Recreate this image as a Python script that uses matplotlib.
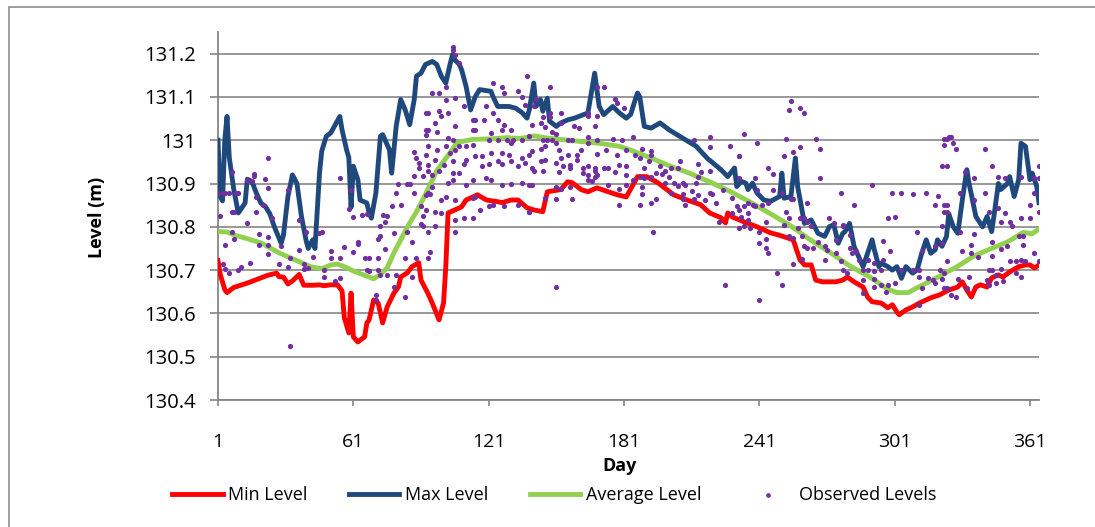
import matplotlib
matplotlib.use("Agg")
import matplotlib.pyplot as plt
from matplotlib.patches import Rectangle

plt.rcParams['font.family'] = ['Open Sans', 'DejaVu Sans']

# ---------------- data ----------------
max_days = [1, 2, 3, 4, 5, 6, 8, 10, 13, 14, 16, 18, 20, 22, 24, 26, 29, 30, 32, 34,
            36, 38, 40, 41, 43, 44, 46, 47, 49, 51, 53, 55, 56, 58, 59, 60, 61, 63, 64, 67,
            68, 69, 71, 73, 74, 77, 78, 80, 82, 84, 86, 88, 89, 91, 93, 96, 98, 100, 102, 104,
            105, 106, 108, 109, 111, 113, 115, 117, 122, 123, 125, 130, 133, 136, 138, 139, 141, 142, 144, 145,
            147, 148, 151, 153, 156, 159, 163, 165, 167, 168, 170, 172, 176, 179, 182, 184, 186, 187, 188, 190,
            193, 197, 201, 207, 213, 218, 224, 227, 230, 231, 233, 235, 236, 238, 240, 243, 246, 250, 251, 252,
            255, 257, 258, 261, 264, 267, 270, 272, 274, 276, 278, 279, 281, 283, 286, 287, 289, 291, 292, 294,
            295, 298, 300, 302, 304, 306, 309, 311, 313, 315, 317, 319, 320, 322, 324, 325, 327, 329, 331, 333,
            334, 337, 340, 342, 344, 345, 347, 348, 351, 352, 354, 356, 357, 359, 361, 362, 364, 365]
max_level = [131.00, 130.87, 130.86, 131.00, 131.055, 130.96, 130.886, 130.832, 130.855, 130.91,
             130.905, 130.878, 130.855, 130.847, 130.83, 130.80, 130.762, 130.78, 130.87, 130.92,
             130.90, 130.824, 130.77, 130.75, 130.77, 130.75, 130.924, 130.975, 131.009, 131.017,
             131.036, 131.055, 131.024, 130.978, 130.96, 130.845, 130.94, 130.909, 130.862, 130.855,
             130.832, 130.82, 130.878, 131.009, 131.013, 130.978, 130.924, 131.032, 131.094, 131.07,
             131.036, 131.094, 131.148, 131.155, 131.175, 131.182, 131.175, 131.148, 131.132, 131.178,
             131.198, 131.186, 131.175, 131.163, 131.124, 131.07, 131.10, 131.117, 131.113, 131.10,
             131.078, 131.078, 131.074, 131.063, 131.051, 131.07, 131.132, 131.078, 131.094, 131.067,
             131.097, 131.044, 131.032, 131.04, 131.047, 131.051, 131.059, 131.063, 131.124, 131.155,
             131.078, 131.059, 131.078, 131.063, 131.051, 131.06, 131.094, 131.109, 131.10, 131.032,
             131.028, 131.04, 131.024, 131.005, 130.986, 130.958, 130.932, 130.916, 130.936, 130.893,
             130.905, 130.901, 130.886, 130.901, 130.878, 130.862, 130.859, 130.87, 130.924, 130.866,
             130.87, 130.959, 130.893, 130.808, 130.816, 130.785, 130.778, 130.80, 130.805, 130.762,
             130.785, 130.789, 130.808, 130.755, 130.72, 130.708, 130.739, 130.77, 130.747, 130.708,
             130.716, 130.708, 130.70, 130.708, 130.681, 130.708, 130.693, 130.701, 130.739, 130.77,
             130.739, 130.747, 130.77, 130.755, 130.778, 130.83, 130.80, 130.785, 130.862, 130.932,
             130.90, 130.824, 130.80, 130.824, 130.789, 130.824, 130.90, 130.886, 130.90, 130.916,
             130.87, 130.909, 130.993, 130.986, 130.909, 130.924, 130.893, 130.856]

min_days = [1, 2, 4, 5, 8, 14, 20, 23, 27, 28, 30, 32, 34, 37, 39, 43, 46, 48, 51, 54,
            56, 57, 59, 60, 61, 63, 66, 67, 68, 70, 72, 74, 76, 79, 81, 82, 85, 87, 90, 91,
            94, 96, 99, 101, 102, 103, 106, 109, 111, 114, 116, 120, 125, 127, 131, 134, 138, 141, 145, 147,
            153, 156, 158, 162, 165, 169, 174, 178, 182, 185, 187, 191, 196, 203, 209, 215, 219, 224, 226, 227,
            229, 234, 240, 246, 249, 252, 256, 259, 261, 264, 266, 269, 275, 278, 280, 283, 287, 289, 291, 295,
            298, 300, 302, 303, 306, 309, 312, 317, 321, 325, 329, 331, 333, 335, 337, 339, 342, 344, 347, 349,
            352, 356, 359, 361, 363, 365]
min_level = [130.722, 130.69, 130.655, 130.648, 130.66, 130.67, 130.682, 130.688, 130.693, 130.685,
             130.684, 130.668, 130.675, 130.69, 130.665, 130.665, 130.666, 130.664, 130.666, 130.666,
             130.652, 130.59, 130.555, 130.647, 130.546, 130.534, 130.546, 130.578, 130.585, 130.631,
             130.624, 130.578, 130.615, 130.647, 130.661, 130.684, 130.694, 130.708, 130.717, 130.677,
             130.647, 130.624, 130.585, 130.624, 130.708, 130.832, 130.839, 130.846, 130.862, 130.869,
             130.874, 130.862, 130.858, 130.856, 130.862, 130.862, 130.844, 130.839, 130.835, 130.881,
             130.886, 130.904, 130.902, 130.886, 130.881, 130.89, 130.881, 130.874, 130.869, 130.897,
             130.916, 130.916, 130.902, 130.874, 130.862, 130.851, 130.832, 130.821, 130.809, 130.832,
             130.823, 130.812, 130.80, 130.786, 130.782, 130.777, 130.77, 130.724, 130.712, 130.712,
             130.677, 130.673, 130.673, 130.677, 130.684, 130.673, 130.661, 130.638, 130.627, 130.624,
             130.613, 130.62, 130.603, 130.597, 130.608, 130.615, 130.624, 130.636, 130.643, 130.654,
             130.661, 130.673, 130.654, 130.638, 130.661, 130.666, 130.661, 130.682, 130.689, 130.684,
             130.696, 130.708, 130.712, 130.712, 130.705, 130.712]

avg_days = [1, 5, 9, 13, 20, 28, 35, 42, 47, 51, 54, 57, 61, 65, 70, 73, 76, 79, 82, 85,
            89, 93, 98, 103, 107, 114, 122, 129, 135, 141, 147, 158, 170, 179, 185, 191, 197, 203, 210, 219,
            228, 237, 246, 255, 263, 272, 281, 290, 298, 302, 307, 312, 321, 329, 336, 343, 351, 358, 362, 365]
avg_level = [130.789, 130.788, 130.78, 130.774, 130.763, 130.74, 130.724, 130.708, 130.703, 130.712,
             130.714, 130.708, 130.698, 130.69, 130.68, 130.69, 130.705, 130.74, 130.77, 130.80,
             130.835, 130.875, 130.93, 130.965, 130.995, 131.002, 131.003, 131.006, 131.004, 131.01,
             131.005, 130.999, 130.993, 130.986, 130.975, 130.963, 130.95, 130.937, 130.924, 130.904,
             130.882, 130.857, 130.83, 130.802, 130.772, 130.742, 130.71, 130.684, 130.656, 130.648,
             130.648, 130.662, 130.686, 130.709, 130.732, 130.748, 130.765, 130.787, 130.784, 130.795]

obs_days = [
    23, 7, 17, 22, 23, 1, 3, 4, 6, 9, 10, 2, 7, 8, 18, 21, 32, 14, 25, 37,
    19, 23, 40, 46, 7, 4, 8, 19, 23, 33, 29, 23, 3, 4, 6, 15, 10, 11, 28, 32,
    37, 39, 39, 41, 43, 33, 16, 14, 18, 17,
    47, 55, 60, 59, 61, 65, 67, 74, 76, 75, 78, 82, 80, 81, 85, 86, 88, 89, 90, 90,
    88, 92, 88, 93, 93, 93, 85, 87, 89, 84, 79, 75, 73, 72, 73, 63, 63, 61, 57, 51,
    51, 55, 66, 68, 72, 67, 68, 72, 73, 76, 80, 79, 71, 71, 48, 48, 53, 55, 87, 84,
    91,
    105, 105, 106, 108, 102, 96, 99, 106, 102, 110, 123, 127, 128, 134, 136, 137, 120, 103, 100, 99,
    94, 97, 106, 114, 115, 119, 123, 125, 128, 131, 127, 114, 115, 94, 93, 98, 103, 105, 108, 111,
    114, 121, 122, 125, 129, 131, 132, 136, 139, 94, 98, 102, 104, 106, 111, 115, 118, 122, 127, 130,
    136, 139, 93, 94, 97, 101, 105, 110, 118, 121, 125, 127, 131, 134, 137, 94, 96, 99, 105, 108,
    105, 96, 103, 111, 114, 120, 122, 127, 131, 136, 139, 94, 95, 100, 102, 106, 114, 115, 117, 121,
    123, 128, 134, 139, 93, 97, 100, 106, 110, 114, 92, 94, 97, 106, 95, 94, 91, 92,
    138, 148, 141, 142, 145, 148, 153, 165, 169, 172, 177, 178, 181, 140, 144, 146, 148, 149, 151, 153,
    159, 161, 165, 168, 169, 145, 147, 149, 151, 156, 158, 165, 169, 176, 180, 185, 140, 144, 146, 152,
    156, 160, 162, 165, 169, 173, 178, 182, 140, 144, 146, 151, 153, 154, 157, 157, 160, 163, 165, 168,
    168, 172, 174, 179, 182, 141, 145, 152, 163, 165, 168, 169, 174, 177, 182, 140, 151, 157, 165, 167,
    182, 185, 139, 146, 151, 158, 153, 179, 179, 151,
    219, 219, 228, 232, 212, 186, 188, 189, 193, 192, 193, 190, 197, 199, 201, 188, 189, 193, 195, 202,
    205, 206, 203, 205, 208, 213, 214, 215, 214, 219, 211, 214, 212, 217, 219, 220, 222, 225, 229, 231,
    188, 193, 195, 189, 207, 207, 199, 208, 202, 207, 223, 229, 194, 226, 190, 198,
    255, 254, 259, 261, 234, 240, 253, 266, 268, 259, 256, 252, 232, 245, 247, 232, 239, 268, 277, 240,
    247, 251, 255, 256, 262, 234, 236, 238, 239, 242, 245, 232, 253, 254, 259, 261, 272, 274, 233, 236,
    234, 237, 244, 252, 258, 262, 264, 232, 241, 241, 244, 244, 245, 254, 256, 260, 261, 267, 270, 271,
    262, 265, 270, 275, 277, 256, 260, 249, 251, 241, 278, 275, 236,
    323, 325, 323, 322, 291, 300, 304, 309, 315, 320, 283, 319, 323, 323, 322, 298, 301, 311, 278, 281,
    284, 282, 296, 299, 296, 313, 319, 322, 281, 285, 289, 292, 295, 304, 309, 312, 312, 316, 321, 323,
    278, 287, 289, 292, 280, 287, 292, 295, 298, 301, 292, 297, 313, 318, 319, 322, 323, 312, 287,
    324, 326, 327, 328, 341, 344, 324, 332, 336, 347, 350, 357, 363, 365, 365, 330, 341, 363, 324, 324,
    336, 343, 347, 350, 357, 361, 361, 365, 330, 336, 344, 348, 352, 353, 356, 358, 331, 335, 335, 338,
    344, 348, 351, 358, 363, 343, 344, 348, 352, 355, 357, 359, 365, 324, 329, 334, 343, 346, 349, 355,
    357, 326, 328, 324, 333, 342, 346]
obs_level = [
    130.959, 130.926, 130.923, 130.911, 130.890, 130.879, 130.879, 130.878, 130.878, 130.879,
    130.879, 130.824, 130.835, 130.835, 130.835, 130.851, 130.884, 130.808, 130.820, 130.816,
    130.783, 130.776, 130.789, 130.785, 130.789, 130.757, 130.772, 130.757, 130.757, 130.728,
    130.755, 130.737, 130.714, 130.702, 130.693, 130.716, 130.701, 130.707, 130.714, 130.707,
    130.747, 130.714, 130.702, 130.704, 130.731, 130.525, 130.905, 130.909, 130.870, 130.918,
    130.787, 130.913, 130.886, 130.841, 130.822, 130.828, 130.830, 130.828, 130.825, 130.812,
    130.849, 130.851, 130.879, 130.899, 130.899, 130.899, 130.879, 130.959, 130.947, 130.936,
    130.918, 130.918, 130.972, 131.064, 131.023, 130.874, 130.787, 130.766, 130.728, 130.728,
    130.785, 130.748, 130.778, 130.771, 130.801, 130.766, 130.761, 130.743, 130.753, 130.745,
    130.728, 130.728, 130.728, 130.728, 130.728, 130.701, 130.697, 130.701, 130.689, 130.689,
    130.689, 130.662, 130.643, 130.631, 130.701, 130.684, 130.676, 130.681, 130.685, 130.639,
    130.807,
    131.215, 131.209, 131.198, 131.178, 131.124, 131.109, 131.109, 131.097, 131.094, 131.078,
    131.132, 131.124, 131.109, 131.113, 131.101, 131.082, 131.078, 131.063, 131.055, 131.067,
    131.063, 131.040, 131.032, 131.047, 131.047, 131.047, 131.064, 131.047, 131.036, 131.024,
    131.024, 131.024, 131.023, 131.024, 131.013, 131.020, 131.005, 131.001, 130.987, 130.987,
    130.990, 131.001, 131.017, 131.001, 131.001, 130.993, 131.001, 131.001, 131.009, 130.986,
    130.978, 130.986, 130.970, 130.978, 130.955, 130.963, 130.963, 130.970, 130.970, 130.966,
    130.959, 130.966, 130.966, 130.943, 130.955, 130.943, 130.951, 130.946, 130.940, 130.946,
    130.951, 130.946, 130.951, 130.940, 130.947, 130.928, 130.920, 130.928, 130.924, 130.924,
    130.909, 130.893, 130.901, 130.897, 130.909, 130.913, 130.909, 130.897, 130.899, 130.901,
    130.897, 130.878, 130.876, 130.862, 130.870, 130.862, 130.866, 130.870, 130.839, 130.847,
    130.851, 130.847, 130.851, 130.835, 130.839, 130.835, 130.832, 130.816, 130.820, 130.820,
    130.801, 130.789, 130.801, 130.789, 130.743, 130.728, 130.847, 130.824,
    131.149, 131.124, 131.078, 131.095, 131.054, 131.063, 131.063, 131.063, 131.124, 131.124,
    131.095, 131.086, 131.074, 131.036, 131.040, 131.030, 131.054, 131.020, 131.015, 131.040,
    131.034, 131.028, 131.057, 131.034, 131.055, 131.001, 131.001, 131.001, 130.993, 131.001,
    131.001, 131.007, 131.001, 131.003, 131.001, 131.007, 130.974, 130.980, 130.986, 130.978,
    130.966, 130.966, 130.978, 130.993, 130.969, 130.978, 130.966, 130.978, 130.936, 130.953,
    130.955, 130.947, 130.959, 130.941, 130.943, 130.936, 130.955, 130.936, 130.940, 130.936,
    130.928, 130.936, 130.936, 130.943, 130.940, 130.928, 130.928, 130.926, 130.924, 130.920,
    130.916, 130.920, 130.897, 130.926, 130.920, 130.897, 130.893, 130.893, 130.909, 130.905,
    130.897, 130.909, 130.835, 130.866, 130.864, 130.864, 130.887, 130.851, 130.887, 130.660,
    131.007, 130.984, 130.987, 130.964, 131.000, 130.966, 130.959, 130.980, 130.974, 130.953,
    130.966, 130.936, 130.940, 130.928, 130.916, 130.916, 130.893, 130.916, 130.924, 130.936,
    130.936, 130.951, 130.901, 130.895, 130.897, 130.901, 130.916, 130.926, 130.946, 130.930,
    130.882, 130.874, 130.864, 130.862, 130.878, 130.876, 130.855, 130.886, 130.866, 130.849,
    130.851, 130.856, 130.864, 130.876, 130.864, 130.901, 130.901, 130.851, 130.878, 130.876,
    130.810, 130.832, 130.789, 130.666, 130.913, 130.923,
    131.090, 131.069, 131.074, 131.063, 131.015, 130.993, 131.003, 131.003, 130.980, 130.984,
    130.972, 130.964, 130.964, 130.936, 130.923, 130.913, 130.913, 130.913, 130.879, 130.886,
    130.884, 130.878, 130.864, 130.864, 130.855, 130.847, 130.855, 130.851, 130.847, 130.851,
    130.856, 130.839, 130.835, 130.820, 130.820, 130.820, 130.820, 130.808, 130.822, 130.816,
    130.801, 130.797, 130.812, 130.805, 130.797, 130.810, 130.801, 130.797, 130.789, 130.762,
    130.771, 130.751, 130.739, 130.778, 130.774, 130.778, 130.755, 130.766, 130.756, 130.747,
    130.751, 130.751, 130.724, 130.739, 130.720, 130.714, 130.725, 130.693, 130.666, 130.631,
    130.805, 130.770, 130.832,
    131.003, 131.007, 130.990, 130.941, 130.897, 130.879, 130.879, 130.876, 130.879, 130.872,
    130.851, 130.851, 130.851, 130.835, 130.801, 130.820, 130.822, 130.789, 130.801, 130.782,
    130.745, 130.739, 130.768, 130.745, 130.724, 130.745, 130.755, 130.762, 130.751, 130.724,
    130.724, 130.716, 130.701, 130.701, 130.701, 130.701, 130.684, 130.681, 130.701, 130.693,
    130.701, 130.701, 130.701, 130.697, 130.693, 130.677, 130.679, 130.666, 130.666, 130.671,
    130.661, 130.650, 130.658, 130.677, 130.671, 130.679, 130.658, 130.620, 130.647,
    131.003, 131.007, 130.993, 130.980, 130.980, 130.941, 130.940, 130.926, 130.913, 130.916,
    130.913, 130.916, 130.913, 130.913, 130.941, 130.879, 130.879, 130.879, 130.851, 130.835,
    130.862, 130.835, 130.843, 130.832, 130.820, 130.851, 130.820, 130.835, 130.787, 130.784,
    130.764, 130.812, 130.812, 130.802, 130.779, 130.758, 130.745, 130.758, 130.739, 130.731,
    130.733, 130.748, 130.756, 130.779, 130.739, 130.701, 130.701, 130.702, 130.720, 130.722,
    130.724, 130.722, 130.720, 130.720, 130.679, 130.684, 130.666, 130.670, 130.676, 130.693,
    130.684, 130.643, 130.639, 130.658, 130.658, 130.677, 130.689]

x_ticks = [1, 61, 121, 181, 241, 301, 361]
y_ticks = [130.4, 130.5, 130.6, 130.7, 130.8, 130.9, 131.0, 131.1, 131.2]
y_tick_labels = ['130.4', '130.5', '130.6', '130.7', '130.8', '130.9', '131', '131.1', '131.2']

# ---------------- plot ----------------
W, H = 1095, 527
fig = plt.figure(figsize=(W / 100, H / 100), dpi=100)
ax = fig.add_axes([218 / W, 1 - 400 / H, (1039 - 218) / W, (400 - 32) / H])

grey = '#868686'
ax.plot(min_days, min_level, color='#FF0000', lw=3.5, solid_joinstyle='round',
        label='Min Level', zorder=3)
ax.plot(max_days, max_level, color='#1F497D', lw=3.5, solid_joinstyle='round',
        label='Max Level', zorder=3)
ax.plot(avg_days, avg_level, color='#92D050', lw=3.5, solid_joinstyle='round',
        label='Average Level', zorder=3)
ax.scatter(obs_days, obs_level, s=14, color='#7030A0', linewidths=0,
           label='Observed Levels', zorder=4)

ax.set_xlim(1, 365)
ax.set_ylim(130.4, 131.25)
ax.set_xticks(x_ticks)
ax.set_yticks(y_ticks)
ax.set_yticklabels(y_tick_labels)

for s in ['top', 'right']:
    ax.spines[s].set_visible(False)
for s in ['left', 'bottom']:
    ax.spines[s].set_color(grey)
    ax.spines[s].set_linewidth(1.3)
ax.yaxis.grid(True, color=grey, lw=1.2)
ax.set_axisbelow(True)

ax.tick_params(axis='x', direction='out', length=4, width=1.2, color=grey,
               pad=20, labelsize=14)
ax.tick_params(axis='y', direction='out', length=6, width=1.2, color=grey,
               pad=10, labelsize=14.5)

fig.text(97 / W, 1 - 217 / H, 'Level (m)', rotation=90, ha='center', va='center',
         fontsize=13, fontweight='bold')
fig.text(620 / W, 1 - 466 / H, 'Day', ha='center', va='center',
         fontsize=13, fontweight='bold')

fig.legend(loc='center', bbox_to_anchor=(554 / W, 1 - 495 / H), ncol=4,
           frameon=False, fontsize=13, handlelength=2.8, handletextpad=0.3,
           columnspacing=2.3, markerscale=0.9)

fig.add_artist(Rectangle((9 / W, -0.1), 1.2, 1 - 7 / H + 0.1, transform=fig.transFigure,
                         fill=False, edgecolor='#8c8c8c', lw=1.2))

fig.savefig('out.png', dpi=100)
